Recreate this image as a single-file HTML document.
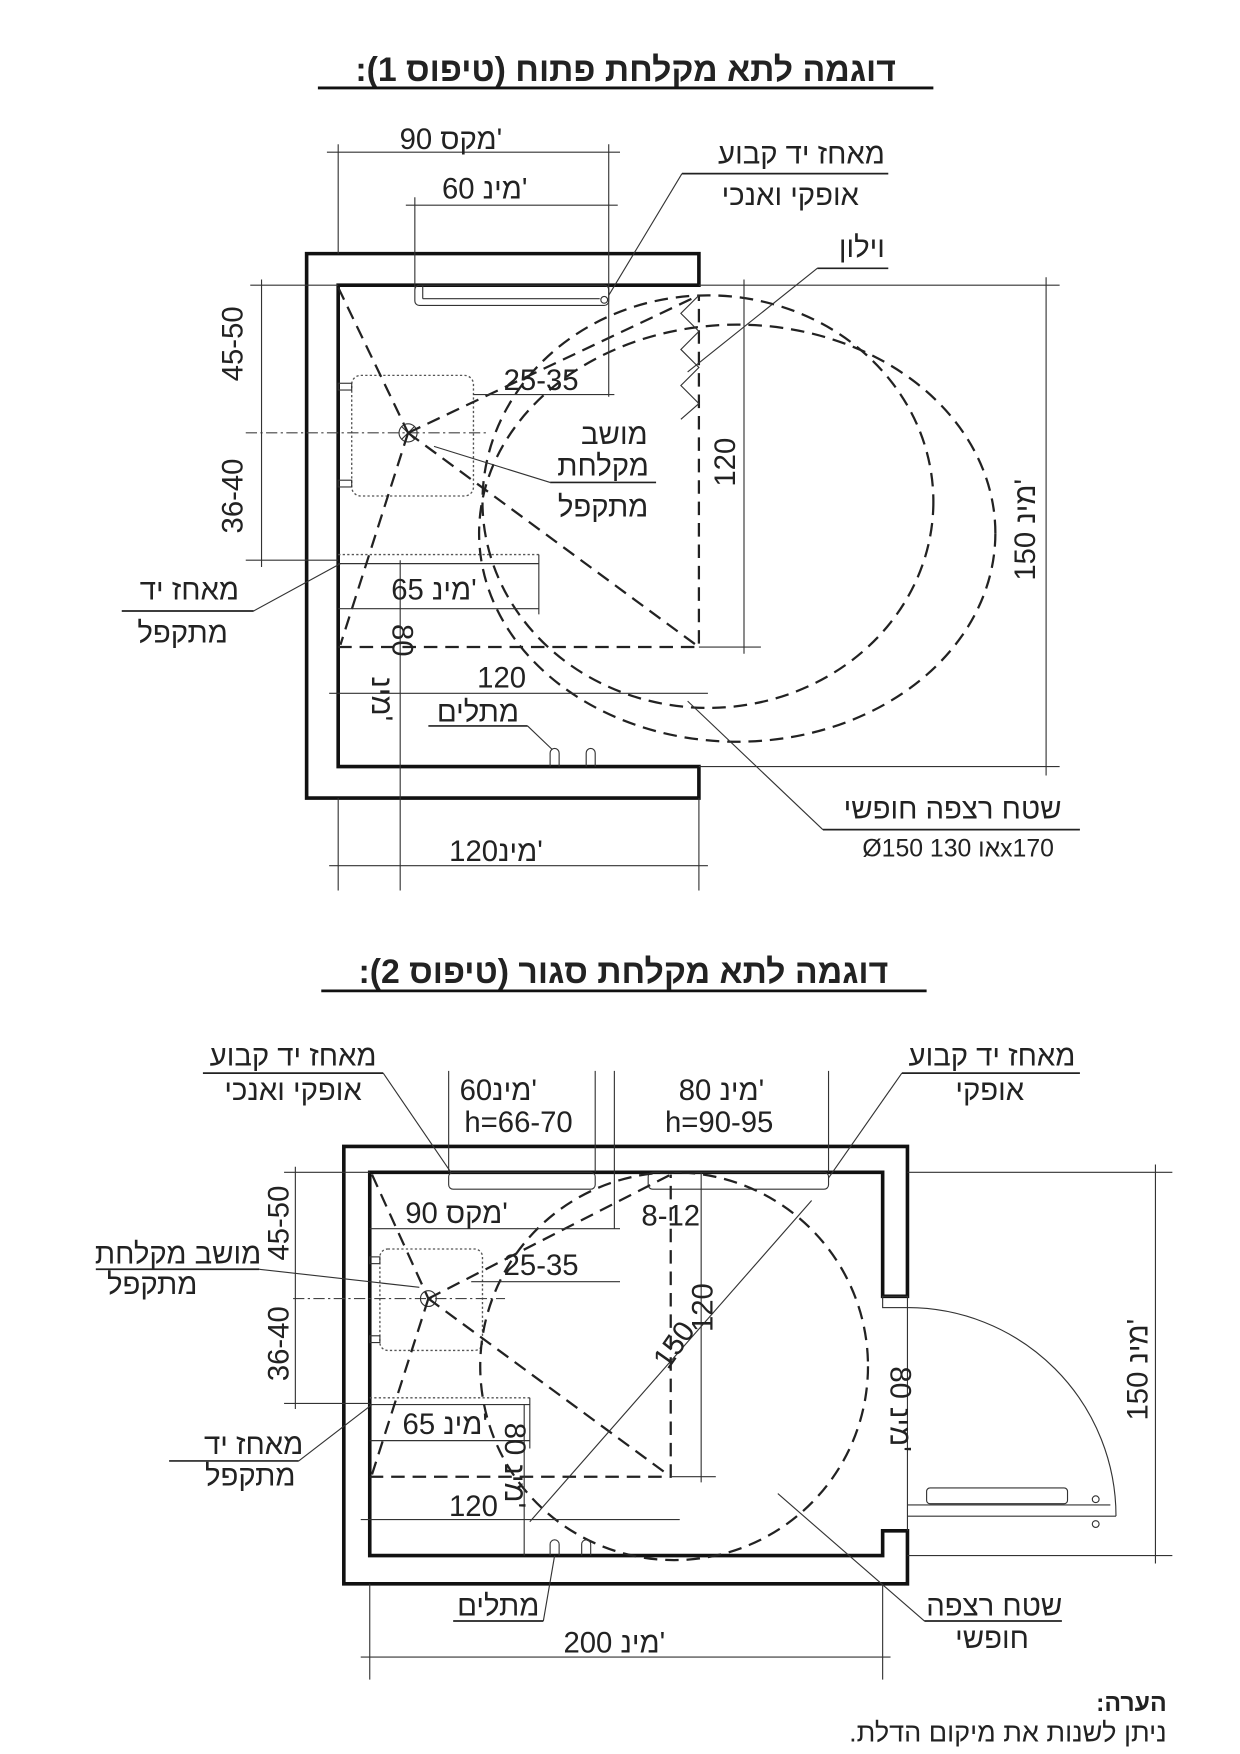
<!DOCTYPE html>
<html><head><meta charset="utf-8"><style>
html,body{margin:0;padding:0;background:#fff}
svg{display:block}
text{font-family:"Liberation Sans","DejaVu Sans",sans-serif;fill:#222}
.w{stroke:#111;stroke-width:3.2;fill:none}
.t{stroke:#333;stroke-width:1;fill:none}
.d{stroke:#222;stroke-width:2;fill:none;stroke-dasharray:12 7}
.dd{stroke:#444;stroke-width:1;fill:none;stroke-dasharray:10 3 2 3}
.dt{stroke:#555;stroke-width:1.2;fill:none;stroke-dasharray:2 2}
.l{font-size:26px}
.u{stroke:#222;stroke-width:1.5}
</style></head><body>
<svg width="1240" height="1754" viewBox="0 0 1100 1556" xmlns="http://www.w3.org/2000/svg">
<!-- Titles -->
<text x="555" y="72" font-size="30" font-weight="bold" text-anchor="middle" direction="rtl">דוגמה לתא מקלחת פתוח (טיפוס 1):</text>
<line x1="282" y1="78" x2="828" y2="78" stroke="#111" stroke-width="2.5"/>
<text x="553" y="872" font-size="30" font-weight="bold" text-anchor="middle" direction="rtl">דוגמה לתא מקלחת סגור (טיפוס 2):</text>
<line x1="285" y1="879" x2="822" y2="879" stroke="#111" stroke-width="2.5"/>

<!-- ===== Diagram 1 ===== -->
<path class="w" d="M620,225 H272 V708 H620 V680 H300 V253 H620 Z"/>
<rect x="368" y="253" width="172" height="18" rx="4" class="t"/>
<line x1="375" y1="253" x2="375" y2="265" class="t"/><line x1="375" y1="265" x2="532" y2="265" class="t"/>
<circle cx="536" cy="266" r="3" class="t"/>
<rect x="312" y="333" width="108" height="107" rx="8" class="dt"/>
<rect x="300" y="340" width="12" height="6" class="t"/><rect x="300" y="426" width="12" height="6" class="t"/>
<line x1="218" y1="384" x2="432" y2="384" class="dd"/>
<circle cx="362" cy="384" r="8" class="t" stroke-width="1.5"/>
<line x1="356" y1="378" x2="368" y2="390" class="t"/><line x1="368" y1="378" x2="356" y2="390" class="t"/>
<line x1="300" y1="492" x2="478" y2="492" class="dt"/><line x1="300" y1="500" x2="478" y2="500" class="t"/>
<path class="d" d="M300,574 H620 V262"/>
<line x1="300" y1="255" x2="362" y2="384" class="d"/>
<line x1="362" y1="384" x2="620" y2="262" class="d"/>
<line x1="362" y1="384" x2="620" y2="574" class="d"/>
<line x1="362" y1="384" x2="302" y2="572" class="d"/>
<ellipse cx="628" cy="445" rx="200" ry="183" class="d"/>
<ellipse cx="654" cy="473" rx="229" ry="185" class="d"/>
<polyline points="620,262 604,278 620,294 604,310 620,326 604,342 620,358 604,372" class="t" stroke-width="2"/>
<!-- dims -->
<line x1="290" y1="135" x2="550" y2="135" class="t"/>
<line x1="300" y1="128" x2="300" y2="225" class="t"/>
<line x1="540" y1="128" x2="540" y2="352" class="t"/>
<line x1="360" y1="182" x2="548" y2="182" class="t"/>
<line x1="368" y1="175" x2="368" y2="255" class="t"/>
<text x="400" y="132" class="l" text-anchor="middle">90 מקס'</text>
<text x="430" y="176" class="l" text-anchor="middle">60 מינ'</text>
<line x1="420" y1="350" x2="545" y2="350" class="t"/>
<text x="480" y="346" class="l" text-anchor="middle">25-35</text>
<line x1="232" y1="248" x2="232" y2="503" class="t"/>
<line x1="222" y1="253" x2="300" y2="253" class="t"/>
<line x1="218" y1="497" x2="300" y2="497" class="t"/>
<text transform="translate(215,305) rotate(-90)" class="l" text-anchor="middle">45-50</text>
<text transform="translate(215,440) rotate(-90)" class="l" text-anchor="middle">36-40</text>
<line x1="660" y1="248" x2="660" y2="580" class="t"/>
<line x1="620" y1="574" x2="675" y2="574" class="t"/>
<text transform="translate(652,410) rotate(-90)" class="l" text-anchor="middle">120</text>
<line x1="620" y1="253" x2="940" y2="253" class="t"/>
<line x1="620" y1="680" x2="940" y2="680" class="t"/>
<line x1="928" y1="246" x2="928" y2="688" class="t"/>
<text transform="translate(918,470) rotate(-90)" class="l" text-anchor="middle">150 מינ'</text>
<line x1="292" y1="615" x2="628" y2="615" class="t"/>
<text x="445" y="610" class="l" text-anchor="middle">120</text>
<line x1="355" y1="497" x2="355" y2="790" class="t"/>
<text transform="translate(348,568) rotate(90)" class="l" text-anchor="middle">80</text>
<text transform="translate(330,620) rotate(90)" class="l" text-anchor="middle">מינ'</text>
<line x1="300" y1="540" x2="478" y2="540" class="t"/><line x1="478" y1="492" x2="478" y2="545" class="t"/>
<text x="385" y="532" class="l" text-anchor="middle">65 מינ'</text>
<line x1="292" y1="768" x2="628" y2="768" class="t"/>
<line x1="300" y1="708" x2="300" y2="790" class="t"/><line x1="620" y1="708" x2="620" y2="790" class="t"/>
<text x="440" y="764" class="l" text-anchor="middle">120מינ'</text>
<path d="M488,680 V668 a4,4 0 0 1 8,0 V680 M520,680 V668 a4,4 0 0 1 8,0 V680" class="t" stroke-width="1.5"/>
<text x="424" y="640" class="l" text-anchor="middle">מתלים</text><line x1="380" y1="644" x2="468" y2="644" class="u"/>
<line x1="468" y1="644" x2="490" y2="665" class="t"/>
<!-- labels -->
<text x="785" y="145" class="l" text-anchor="start" direction="rtl">מאחז יד קבוע</text>
<line x1="605" y1="154" x2="788" y2="154" class="u"/>
<text x="762" y="182" class="l" text-anchor="start" direction="rtl">אופקי ואנכי</text>
<line x1="605" y1="154" x2="540" y2="262" class="t"/>
<text x="785" y="228" class="l" text-anchor="start" direction="rtl">וילון</text>
<line x1="725" y1="238" x2="788" y2="238" class="u"/>
<line x1="725" y1="238" x2="610" y2="330" class="t"/>
<text x="545" y="394" class="l" text-anchor="middle">מושב</text>
<text x="535" y="422" class="l" text-anchor="middle">מקלחת</text><line x1="488" y1="428" x2="582" y2="428" class="u"/>
<text x="535" y="458" class="l" text-anchor="middle">מתקפל</text>
<line x1="488" y1="428" x2="385" y2="396" class="t"/>
<text x="168" y="532" class="l" text-anchor="middle">מאחז יד</text><line x1="108" y1="542" x2="225" y2="542" class="u"/>
<text x="162" y="570" class="l" text-anchor="middle">מתקפל</text>
<line x1="225" y1="542" x2="302" y2="500" class="t"/>
<text x="845" y="726" class="l" text-anchor="middle">שטח רצפה חופשי</text><line x1="730" y1="736" x2="958" y2="736" class="u"/>
<text x="850" y="760" font-size="22" text-anchor="middle">Ø150 או 130x170</text>
<line x1="730" y1="736" x2="610" y2="622" class="t"/>

<!-- ===== Diagram 2 ===== -->
<path class="w" d="M805,1150 V1017 H305 V1405 H805 V1358 H783 V1380 H328 V1040 H783 V1150 Z"/>
<rect x="783" y="1150" width="22" height="10" class="t"/>
<line x1="805" y1="1160" x2="805" y2="1358" class="t"/>
<path d="M805,1160 A185,185 0 0 1 990,1345" class="t"/>
<line x1="805" y1="1345" x2="990" y2="1345" class="t"/>
<line x1="805" y1="1335" x2="985" y2="1335" class="t"/>
<rect x="822" y="1320" width="125" height="14" rx="3" class="t"/>
<circle cx="972" cy="1330" r="3" class="t"/><circle cx="972" cy="1352" r="3" class="t"/>
<rect x="398" y="1040" width="130" height="15" rx="4" class="t"/>
<rect x="575" y="1040" width="160" height="15" rx="4" class="t"/>
<rect x="337" y="1108" width="91" height="90" rx="7" class="dt"/>
<rect x="328" y="1115" width="9" height="6" class="t"/><rect x="328" y="1185" width="9" height="6" class="t"/>
<line x1="260" y1="1152" x2="448" y2="1152" class="dd"/>
<circle cx="380" cy="1152" r="7" class="t" stroke-width="1.5"/>
<line x1="328" y1="1240" x2="470" y2="1240" class="dt"/><line x1="328" y1="1246" x2="470" y2="1246" class="t"/>
<path class="d" d="M328,1310 H595 V1042"/>
<line x1="330" y1="1042" x2="380" y2="1152" class="d"/>
<line x1="380" y1="1152" x2="595" y2="1042" class="d"/>
<line x1="380" y1="1152" x2="595" y2="1310" class="d"/>
<line x1="380" y1="1152" x2="330" y2="1308" class="d"/>
<circle cx="598" cy="1212" r="172" class="d"/>
<line x1="470" y1="1350" x2="720" y2="1065" class="t"/>
<text transform="translate(605,1198) rotate(-55)" class="l" text-anchor="middle">150</text>
<line x1="622" y1="1040" x2="622" y2="1315" class="t"/>
<line x1="595" y1="1310" x2="635" y2="1310" class="t"/>
<text transform="translate(632,1160) rotate(-90)" class="l" text-anchor="middle">120</text>
<!-- top dims -->
<line x1="398" y1="950" x2="398" y2="1040" class="t"/>
<line x1="528" y1="950" x2="528" y2="1040" class="t"/>
<line x1="545" y1="950" x2="545" y2="1090" class="t"/>
<line x1="735" y1="950" x2="735" y2="1040" class="t"/>
<text x="442" y="976" class="l" text-anchor="middle">60מינ'</text>
<text x="460" y="1004" class="l" text-anchor="middle">h=66-70</text>
<text x="640" y="976" class="l" text-anchor="middle">80 מינ'</text>
<text x="638" y="1004" class="l" text-anchor="middle">h=90-95</text>
<line x1="328" y1="1090" x2="550" y2="1090" class="t"/>
<text x="405" y="1085" class="l" text-anchor="middle">90 מקס'</text>
<text x="595" y="1087" class="l" text-anchor="middle">8-12</text>
<line x1="418" y1="1137" x2="550" y2="1137" class="t"/>
<text x="480" y="1131" class="l" text-anchor="middle">25-35</text>
<line x1="262" y1="1035" x2="262" y2="1250" class="t"/>
<line x1="252" y1="1040" x2="328" y2="1040" class="t"/>
<line x1="252" y1="1245" x2="328" y2="1245" class="t"/>
<text transform="translate(256,1085) rotate(-90)" class="l" text-anchor="middle">45-50</text>
<text transform="translate(256,1192) rotate(-90)" class="l" text-anchor="middle">36-40</text>
<line x1="328" y1="1278" x2="470" y2="1278" class="t"/><line x1="470" y1="1240" x2="470" y2="1285" class="t"/>
<text x="395" y="1272" class="l" text-anchor="middle">65 מינ'</text>
<line x1="465" y1="1246" x2="465" y2="1380" class="t"/>
<text transform="translate(448,1300) rotate(90)" class="l" text-anchor="middle">80 מינ'</text>
<line x1="320" y1="1348" x2="603" y2="1348" class="t"/>
<text x="420" y="1345" class="l" text-anchor="middle">120</text>
<path d="M488,1380 V1370 a4,4 0 0 1 8,0 V1380 M516,1380 V1370 a4,4 0 0 1 8,0 V1380" class="t" stroke-width="1.5"/>
<line x1="320" y1="1470" x2="790" y2="1470" class="t"/>
<line x1="328" y1="1405" x2="328" y2="1490" class="t"/><line x1="783" y1="1405" x2="783" y2="1490" class="t"/>
<text x="545" y="1466" class="l" text-anchor="middle">200 מינ'</text>
<line x1="805" y1="1040" x2="1040" y2="1040" class="t"/>
<line x1="805" y1="1380" x2="1040" y2="1380" class="t"/>
<line x1="1025" y1="1033" x2="1025" y2="1387" class="t"/>
<text transform="translate(1018,1215) rotate(-90)" class="l" text-anchor="middle">150 מינ'</text>
<text transform="translate(790,1250) rotate(90)" class="l" text-anchor="middle">80 מינ'</text>
<!-- labels -->
<text x="260" y="945" class="l" text-anchor="middle">מאחז יד קבוע</text><line x1="180" y1="952" x2="340" y2="952" class="u"/>
<text x="260" y="976" class="l" text-anchor="middle">אופקי ואנכי</text>
<line x1="340" y1="952" x2="400" y2="1040" class="t"/>
<text x="880" y="945" class="l" text-anchor="middle">מאחז יד קבוע</text><line x1="800" y1="952" x2="958" y2="952" class="u"/>
<text x="878" y="976" class="l" text-anchor="middle">אופקי</text>
<line x1="800" y1="952" x2="735" y2="1045" class="t"/>
<text x="158" y="1121" class="l" text-anchor="middle">מושב מקלחת</text><line x1="85" y1="1126" x2="230" y2="1126" class="u"/>
<text x="135" y="1148" class="l" text-anchor="middle">מתקפל</text>
<line x1="230" y1="1126" x2="372" y2="1142" class="t"/>
<text x="225" y="1290" class="l" text-anchor="middle">מאחז יד</text><line x1="150" y1="1296" x2="265" y2="1296" class="u"/>
<text x="222" y="1318" class="l" text-anchor="middle">מתקפל</text>
<line x1="265" y1="1296" x2="330" y2="1246" class="t"/>
<text x="442" y="1433" class="l" text-anchor="middle">מתלים</text><line x1="402" y1="1438" x2="482" y2="1438" class="u"/>
<line x1="482" y1="1438" x2="492" y2="1380" class="t"/>
<text x="882" y="1433" class="l" text-anchor="middle">שטח רצפה</text><line x1="820" y1="1438" x2="942" y2="1438" class="u"/>
<text x="880" y="1462" class="l" text-anchor="middle">חופשי</text>
<line x1="820" y1="1438" x2="690" y2="1325" class="t"/>
<text x="1035" y="1518" font-size="22" font-weight="bold" text-anchor="start" direction="rtl">הערה:</text>
<text x="1035" y="1545" font-size="24" text-anchor="start" direction="rtl">ניתן לשנות את מיקום הדלת.</text>
</svg>
</body></html>
